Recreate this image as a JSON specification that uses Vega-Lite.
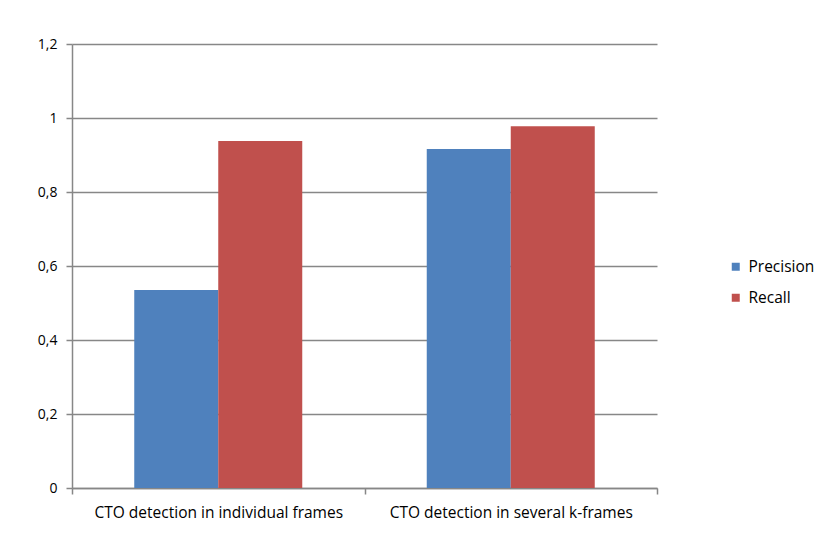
{
  "$schema": "https://vega.github.io/schema/vega-lite/v6.json",
  "width": 585,
  "height": 444,
  "autosize": {"type": "none"},
  "padding": {"left": 72, "top": 44, "right": 164, "bottom": 67},
  "background": "white",
  "data": {
    "values": [
      {"group": "CTO detection in individual frames", "measure": "Precision", "value": 0.535},
      {"group": "CTO detection in individual frames", "measure": "Recall", "value": 0.938},
      {"group": "CTO detection in several k-frames", "measure": "Precision", "value": 0.916},
      {"group": "CTO detection in several k-frames", "measure": "Recall", "value": 0.978}
    ]
  },
  "mark": {"type": "bar"},
  "encoding": {
    "x": {
      "field": "group",
      "type": "nominal",
      "sort": null,
      "scale": {"paddingInner": 0, "paddingOuter": 0},
      "axis": {
        "title": null,
        "labelAngle": 0,
        "labelLimit": 0,
        "tickBand": "extent",
        "domainColor": "#878787",
        "domainWidth": 1.5,
        "tickColor": "#878787",
        "tickWidth": 1.5,
        "tickSize": 6,
        "labelFont": "Open Sans",
        "labelFontSize": 15.5,
        "labelColor": "#000000",
        "labelPadding": 11
      }
    },
    "xOffset": {
      "field": "measure",
      "type": "nominal",
      "sort": ["Precision", "Recall"],
      "scale": {"paddingInner": 0, "paddingOuter": 0.741}
    },
    "y": {
      "field": "value",
      "type": "quantitative",
      "scale": {"domain": [0, 1.2], "nice": false},
      "axis": {
        "title": null,
        "values": [0, 0.2, 0.4, 0.6, 0.8, 1, 1.2],
        "labelExpr": "replace(format(datum.value, ''), '.', ',')",
        "grid": true,
        "gridColor": "#878787",
        "gridWidth": 1.5,
        "domainColor": "#878787",
        "domainWidth": 1.5,
        "tickColor": "#878787",
        "tickWidth": 1.5,
        "tickSize": 6,
        "labelFont": "Open Sans",
        "labelFontSize": 14,
        "labelColor": "#000000",
        "labelPadding": 9
      }
    },
    "color": {
      "field": "measure",
      "type": "nominal",
      "scale": {"domain": ["Precision", "Recall"], "range": ["#4F81BD", "#C0504D"]},
      "legend": {
        "title": null,
        "orient": "none",
        "legendX": 656,
        "legendY": 215,
        "symbolType": "square",
        "symbolSize": 64,
        "symbolStrokeWidth": 0,
        "labelFont": "Open Sans",
        "labelFontSize": 15.5,
        "labelColor": "#000000",
        "rowPadding": 14,
        "labelOffset": 5
      }
    }
  },
  "config": {"view": {"stroke": null}}
}
